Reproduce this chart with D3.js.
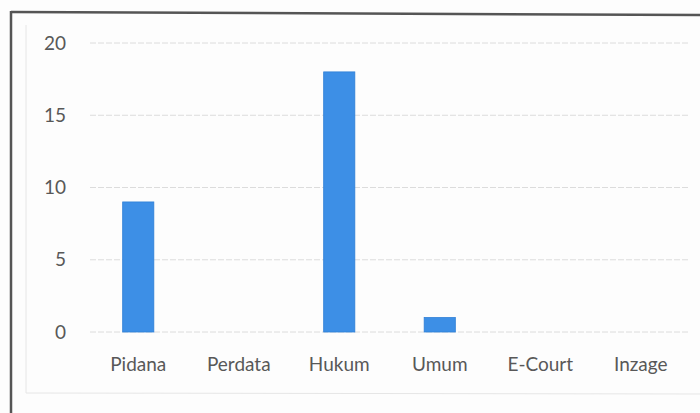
<!DOCTYPE html>
<html><head><meta charset="utf-8">
<script src="https://cdn.jsdelivr.net/npm/d3@7"></script>
<style>body{margin:0;background:#fff}svg{display:block}</style>
</head><body>
<script>
const categories = ["Pidana","Perdata","Hukum","Umum","E-Court","Inzage"];
const values = [9,0,18,1,0,0];
const yTicks = [0,5,10,15,20];

const W=700,H=413;
const svg=d3.select("body").append("svg").attr("width",W).attr("height",H);
svg.append("rect").attr("width",W).attr("height",H).attr("fill","#fdfdfd");

// outer scanned frame
svg.append("line").attr("x1",11).attr("y1",12).attr("x2",700).attr("y2",15)
  .attr("stroke","#555").attr("stroke-width",2.5);
svg.append("line").attr("x1",11).attr("y1",11).attr("x2",11).attr("y2",413)
  .attr("stroke","#555").attr("stroke-width",2.5);
// faint inner chart area border
svg.append("line").attr("x1",26).attr("y1",25).attr("x2",26).attr("y2",393)
  .attr("stroke","#e6e6e6").attr("stroke-width",1);
svg.append("line").attr("x1",26).attr("y1",393).attr("x2",700).attr("y2",394)
  .attr("stroke","#e6e6e6").attr("stroke-width",1);

const x=d3.scaleBand().domain(categories).range([88,691]).paddingInner(0.69).paddingOuter(0.345);
const y=d3.scaleLinear().domain([0,20]).range([332,43]);

const grid=svg.append("g");
grid.selectAll("line").data(yTicks).join("line")
  .attr("x1",90).attr("x2",690)
  .attr("y1",d=>y(d)).attr("y2",d=>y(d))
  .attr("stroke","#dcdcdc").attr("stroke-width",1).attr("stroke-dasharray","6,2");

const font="Lato, 'Open Sans', sans-serif";
const yAxis=svg.append("g").attr("transform","translate(66,0)")
  .call(d3.axisLeft(y).tickValues(yTicks).tickSize(0).tickPadding(0));
yAxis.select(".domain").remove();
yAxis.selectAll("text").attr("fill","#585858").attr("font-family",font)
  .attr("font-size",19).attr("text-anchor","end");

svg.append("g").selectAll("rect").data(values).join("rect")
  .attr("x",(d,i)=>x(categories[i]))
  .attr("width",x.bandwidth())
  .attr("y",d=>y(d))
  .attr("height",d=>y(0)-y(d))
  .attr("fill","#3d8fe6")
  .attr("stroke","#2f7fd6").attr("stroke-width",0.8);

const xAxis=svg.append("g").attr("transform","translate(0,332)")
  .call(d3.axisBottom(x).tickSize(0).tickPadding(26));
xAxis.select(".domain").remove();
xAxis.selectAll("text").attr("fill","#585858").attr("font-family",font)
  .attr("font-size",19);
</script>
</body></html>
